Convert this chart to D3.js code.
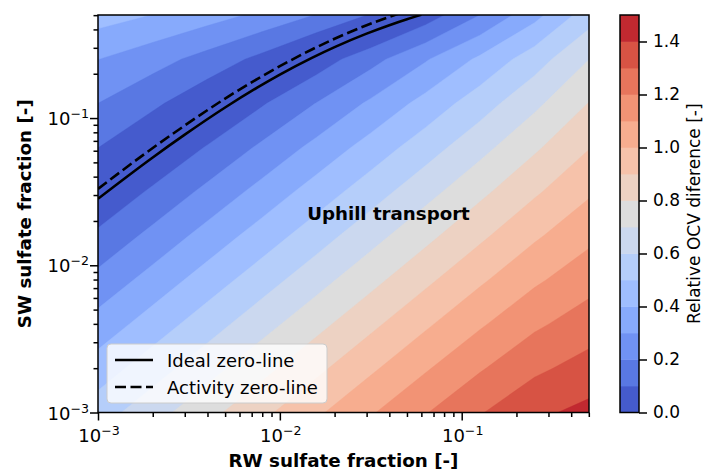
<!DOCTYPE html>
<html>
<head>
<meta charset="utf-8">
<script src="https://cdn.jsdelivr.net/npm/d3@7"></script>
<style>
  body { margin: 0; background: #fff; }
  text { font-family: "DejaVu Sans", sans-serif; fill: #000; }
</style>
</head>
<body>
<svg id="chart" width="704" height="472"></svg>
<script>
// grid nodes (log10 of the sulfate fraction)
var gridLogRW = [-3, -2.7, -2.4, -2.1, -1.8, -1.5, -1.2, -0.9, -0.6, -0.3];
var gridLogSW = [-3, -2.7, -2.4, -2.1, -1.8, -1.5, -1.2, -0.9, -0.6, -0.3];

// relative OCV difference at the nodes, one row per SW node (lowest SW first).
// above the zero-line the values are kept negative, the colours show the magnitude
var ocvGrid = [
  [0.554, 0.661, 0.769, 0.876, 0.983, 1.090, 1.194, 1.293, 1.379, 1.428],
  [0.446, 0.554, 0.661, 0.769, 0.876, 0.983, 1.089, 1.190, 1.280, 1.339],
  [0.339, 0.446, 0.554, 0.662, 0.769, 0.877, 0.984, 1.087, 1.182, 1.251],
  [0.230, 0.338, 0.446, 0.554, 0.662, 0.770, 0.878, 0.984, 1.083, 1.163],
  [0.120, 0.228, 0.337, 0.445, 0.554, 0.663, 0.772, 0.880, 0.985, 1.075],
  [0.008, 0.116, 0.225, 0.334, 0.444, 0.554, 0.665, 0.776, 0.885, 0.986],
  [-0.101, -0.003, 0.107, 0.218, 0.329, 0.441, 0.554, 0.668, 0.784, 0.896],
  [-0.200, -0.121, -0.024, 0.089, 0.202, 0.317, 0.434, 0.554, 0.677, 0.803],
  [-0.302, -0.240, -0.164, -0.072, 0.043, 0.165, 0.290, 0.419, 0.554, 0.699],
  [-0.445, -0.399, -0.344, -0.279, -0.197, -0.093, 0.045, 0.200, 0.367, 0.554]
];

var levels = [0, 0.1, 0.2, 0.3, 0.4, 0.5, 0.6, 0.7, 0.8, 0.9, 1.0, 1.1, 1.2, 1.3, 1.4, 1.5];
var cbarTicks = [0, 0.2, 0.4, 0.6, 0.8, 1.0, 1.2, 1.4];

// zero-lines [RW fraction, SW fraction]
var idealLine = [[0.001, 0.0283], [0.002, 0.0540], [0.003, 0.0771], [0.005, 0.1179], [0.0075, 0.1608],
  [0.01, 0.1973], [0.015, 0.2564], [0.02, 0.3033], [0.03, 0.3744], [0.04, 0.4272], [0.05, 0.4689], [0.06, 0.5031]];
var activityLine = [[0.001, 0.0330], [0.002, 0.0626], [0.003, 0.0890], [0.005, 0.1356], [0.0075, 0.1841],
  [0.01, 0.2249], [0.015, 0.2923], [0.02, 0.3457], [0.03, 0.4268], [0.04, 0.4870], [0.045, 0.5120]];

var decadeTicks = [0.001, 0.01, 0.1];
var minorTicks = [0.002, 0.003, 0.004, 0.005, 0.006, 0.007, 0.008, 0.009,
  0.02, 0.03, 0.04, 0.05, 0.06, 0.07, 0.08, 0.09, 0.2, 0.3, 0.4, 0.5];

// matplotlib coolwarm
var coolwarm = ["#3b4cc0", "#445acc", "#4d68d7", "#5775e1", "#6282ea", "#6c8ef1", "#779af7", "#82a5fb",
  "#8db0fe", "#98b9ff", "#a3c2ff", "#aec9fd", "#b8d0f9", "#c2d5f4", "#ccd9ee", "#d5dbe6", "#dddddd",
  "#e5d8d1", "#ecd3c5", "#f1ccb9", "#f5c4ad", "#f7bba0", "#f7b194", "#f7a687", "#f49a7b", "#f18d6f",
  "#ec7f63", "#e57058", "#de604d", "#d55042", "#cb3e38", "#c0282f", "#b40426"];
var cmap = d3.scaleLinear().domain(coolwarm.map(function(c, i) { return i / (coolwarm.length - 1); })).range(coolwarm);
var nBands = levels.length - 1;
function bandColor(b) { return cmap((b + 0.5) / nBands); }

var svg = d3.select("#chart");
var plot = { left: 98, right: 589, top: 15, bottom: 412.5 };

var x = d3.scaleLog().domain([Math.pow(10, gridLogRW[0]), Math.pow(10, gridLogRW[gridLogRW.length - 1])]).range([plot.left, plot.right]);
var y = d3.scaleLog().domain([Math.pow(10, gridLogSW[0]), Math.pow(10, gridLogSW[gridLogSW.length - 1])]).range([plot.bottom, plot.top]);

svg.append("clipPath").attr("id", "plotclip")
  .append("rect").attr("x", plot.left).attr("y", plot.top)
  .attr("width", plot.right - plot.left).attr("height", plot.bottom - plot.top);

// filled contours
var nx = gridLogRW.length, ny = gridLogSW.length;
var stepX = gridLogRW[1] - gridLogRW[0], stepY = gridLogSW[1] - gridLogSW[0];
var values = [];
ocvGrid.forEach(function(row) { row.forEach(function(v) { values.push(v); }); });

var negLevels = levels.slice(1, 6).map(function(v) { return -v; }).reverse();
var thresholds = negLevels.concat(levels.slice(0, nBands));

var gx = function(c) { return x(Math.pow(10, gridLogRW[0] + (c - 0.5) * stepX)); };
var gy = function(c) { return y(Math.pow(10, gridLogSW[0] + (c - 0.5) * stepY)); };
var proj = d3.geoTransform({ point: function(px, py) { this.stream.point(gx(px), gy(py)); } });
var path = d3.geoPath(proj);

var contours = d3.contours().size([nx, ny]).thresholds(thresholds)(values);

function contourColor(d) {
  var b = d.value >= 0 ? Math.round(d.value * 10) : Math.round(-d.value * 10) - 1;
  return bandColor(b);
}

svg.append("g").attr("clip-path", "url(#plotclip)")
  .selectAll("path").data(contours).enter()
  .append("path")
  .attr("d", path)
  .attr("fill", contourColor)
  .attr("stroke", contourColor)
  .attr("stroke-width", 0.4);

// zero-lines
var zeroLine = d3.line()
  .x(function(d) { return x(d[0]); })
  .y(function(d) { return y(d[1]); })
  .curve(d3.curveMonotoneX);

var lines = svg.append("g").attr("clip-path", "url(#plotclip)");
lines.append("path").attr("d", zeroLine(idealLine))
  .attr("fill", "none").attr("stroke", "black").attr("stroke-width", 2.6);
lines.append("path").attr("d", zeroLine(activityLine))
  .attr("fill", "none").attr("stroke", "black").attr("stroke-width", 2.6)
  .attr("stroke-dasharray", "11,4.5");

svg.append("text").attr("x", 388.5).attr("y", 220).attr("text-anchor", "middle")
  .attr("font-size", 18.2).attr("font-weight", "bold").text("Uphill transport");

// legend
var leg = svg.append("g");
leg.append("rect").attr("x", 107).attr("y", 344).attr("width", 220).attr("height", 59).attr("rx", 4)
  .attr("fill", "white").attr("fill-opacity", 0.8).attr("stroke", "#cccccc").attr("stroke-width", 1);
leg.append("line").attr("x1", 115).attr("x2", 153).attr("y1", 360).attr("y2", 360)
  .attr("stroke", "black").attr("stroke-width", 2.6);
leg.append("line").attr("x1", 115).attr("x2", 153).attr("y1", 387).attr("y2", 387)
  .attr("stroke", "black").attr("stroke-width", 2.6).attr("stroke-dasharray", "11,4.5");
leg.append("text").attr("x", 167).attr("y", 366.5).attr("font-size", 18).text("Ideal zero-line");
leg.append("text").attr("x", 167).attr("y", 393.5).attr("font-size", 18).text("Activity zero-line");

// frame
svg.append("rect").attr("x", plot.left).attr("y", plot.top)
  .attr("width", plot.right - plot.left).attr("height", plot.bottom - plot.top)
  .attr("fill", "none").attr("stroke", "black").attr("stroke-width", 1.5);

// axes ticks
function styleAxis(g) {
  g.select(".domain").remove();
  g.selectAll(".tick line").attr("stroke-width", 1.5);
}
svg.append("g").attr("transform", "translate(0," + plot.bottom + ")")
  .call(d3.axisBottom(x).tickValues(decadeTicks).tickSize(8).tickFormat("")).call(styleAxis);
svg.append("g").attr("transform", "translate(0," + plot.bottom + ")")
  .call(d3.axisBottom(x).tickValues(minorTicks).tickSize(4.5).tickFormat("")).call(styleAxis);
svg.append("g").attr("transform", "translate(" + plot.left + ",0)")
  .call(d3.axisLeft(y).tickValues(decadeTicks).tickSize(8).tickFormat("")).call(styleAxis);
svg.append("g").attr("transform", "translate(" + plot.left + ",0)")
  .call(d3.axisLeft(y).tickValues(minorTicks).tickSize(4.5).tickFormat("")).call(styleAxis);

function powLabel(sel) {
  sel.each(function(d) {
    var t = d3.select(this);
    t.append("tspan").text("10");
    t.append("tspan").attr("dy", -7).attr("font-size", 12.6).text("\u2212" + (-Math.round(Math.log10(d))));
  });
}
svg.selectAll(".xlab").data(decadeTicks).enter().append("text")
  .attr("x", function(d) { return x(d) + 1; }).attr("y", 442)
  .attr("text-anchor", "middle").attr("font-size", 18).call(powLabel);
svg.selectAll(".ylab").data(decadeTicks).enter().append("text")
  .attr("x", 89).attr("y", function(d) { return y(d) + 7; })
  .attr("text-anchor", "end").attr("font-size", 18).call(powLabel);

svg.append("text").attr("x", (plot.left + plot.right) / 2).attr("y", 467)
  .attr("text-anchor", "middle").attr("font-size", 18.3).attr("font-weight", "bold")
  .text("RW sulfate fraction [-]");
svg.append("text").attr("transform", "translate(30.5," + (plot.top + plot.bottom) / 2 + ") rotate(-90)")
  .attr("text-anchor", "middle").attr("font-size", 18.3).attr("font-weight", "bold")
  .text("SW sulfate fraction [-]");

// colorbar
var cb = { left: 620, right: 639 };
var cy = d3.scaleLinear().domain([levels[0], levels[levels.length - 1]]).range([plot.bottom, plot.top]);
svg.append("g").selectAll("rect").data(levels.slice(0, nBands)).enter()
  .append("rect")
  .attr("x", cb.left).attr("width", cb.right - cb.left)
  .attr("y", function(d, i) { return cy(levels[i + 1]); })
  .attr("height", function(d, i) { return cy(levels[i]) - cy(levels[i + 1]) + 0.4; })
  .attr("fill", function(d, i) { return bandColor(i); });
svg.append("rect").attr("x", cb.left).attr("y", plot.top)
  .attr("width", cb.right - cb.left).attr("height", plot.bottom - plot.top)
  .attr("fill", "none").attr("stroke", "black").attr("stroke-width", 1.5);
var cbAxis = svg.append("g").attr("transform", "translate(" + cb.right + ",0)")
  .call(d3.axisRight(cy).tickValues(cbarTicks).tickSize(8).tickPadding(6).tickFormat(d3.format(".1f")))
  .call(styleAxis);
cbAxis.selectAll("text").attr("font-size", 17).attr("font-family", "DejaVu Sans");

svg.append("text").attr("transform", "translate(700," + (plot.top + plot.bottom) / 2 + ") rotate(-90)")
  .attr("text-anchor", "middle").attr("font-size", 17)
  .text("Relative OCV diference [-]");
</script>
</body>
</html>
